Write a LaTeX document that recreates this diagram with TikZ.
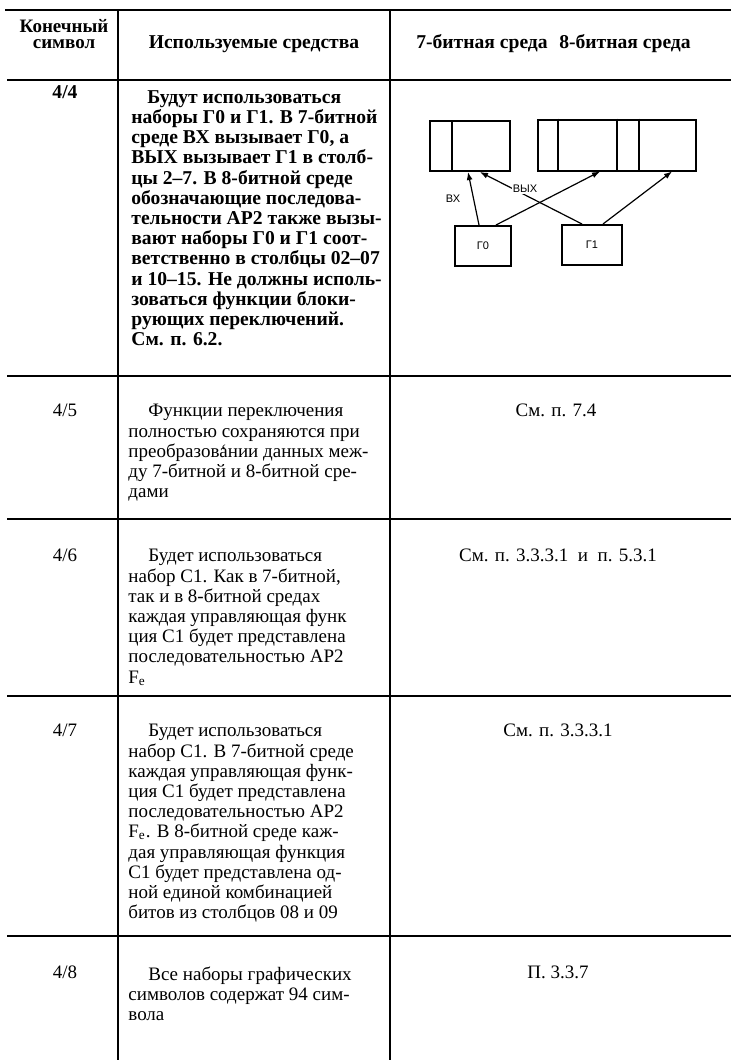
\documentclass[tikz,border=0pt]{standalone}
\usepackage{fontspec}
\setmainfont{Liberation Serif}
\setsansfont{Liberation Sans}
\usetikzlibrary{arrows.meta,calc}

\tikzset{
  rule/.style={line width=1.1pt},
  txt/.style={inner sep=0pt, font=\fontsize{9.5}{10.1}\selectfont},
  bold/.style={font=\bfseries\fontsize{9.8}{10.1}\selectfont},
  cell/.style={txt, anchor=north west, align=left},
  num/.style={txt, anchor=base},
  envbox/.style={draw, line width=1pt, inner sep=0pt},
  setbox/.style={draw, line width=1pt, inner sep=0pt, font=\sffamily\fontsize{5.5}{6}\selectfont},
  lbl/.style={inner sep=0.6pt, font=\sffamily\fontsize{5.5}{6}\selectfont},
  call/.style={line width=0.6pt, -{Latex[length=4pt,width=3pt]}},
}

\begin{document}
\begin{tikzpicture}[x=0.5pt,y=-0.5pt]
\useasboundingbox (0,0) rectangle (731,1060);

% table rules
\draw[rule] (5,10) -- (731,10);
\foreach \y in {80,376,519,696,936}
  \draw[rule] (7,\y) -- (731,\y);
\draw[rule] (118,10) -- (118,1060);
\draw[rule] (390,10) -- (390,1060);

% header
\node[txt, bold, align=center, font=\bfseries\fontsize{9.5}{8}\selectfont] (hsym) at (64,34) {Конечный\\символ};
\node[num, bold] (hmeans) at (254,48) {Используемые средства};
\node[num, bold] (h7) at (482,48) {7-битная среда};
\node[num, bold] (h8) at (625,48) {8-битная среда};

% row 4/4
\node[num, bold] (n44) at (65,98) {4/4};
\node[cell, bold] (t44) at (131,90) {\hspace*{8pt}Будут использоваться\\
наборы Г0 и Г1. В 7-битной\\
среде ВХ вызывает Г0, а\\
ВЫХ вызывает Г1 в столб-\\
цы 2--7. В 8-битной среде\\
обозначающие последова-\\
тельности АР2 также вызы-\\
вают наборы Г0 и Г1 соот-\\
ветственно в столбцы 02--07\\
и 10--15. Не должны исполь-\\
зоваться функции блоки-\\
рующих переключений.\\
См. п. 6.2.};

% switching diagram
\node[envbox, minimum width=40pt, minimum height=25pt] (env7) at (470,146) {};
\node[envbox, minimum width=79pt, minimum height=25.5pt] (env8) at (617,145) {};
\draw[line width=1pt] ($(env7.north west)+(23,0)$) -- ($(env7.south west)+(23,0)$);
\foreach \d in {21,80,102}
  \draw[line width=1pt] ($(env8.north west)+(\d,0)$) -- ($(env8.south west)+(\d,0)$);
\node[setbox, minimum width=28pt, minimum height=20pt] (g0) at (483,246) {Г0};
\node[setbox, minimum width=30pt, minimum height=20pt] (g1) at (592,245) {Г1};
\draw[call] ($(g0.north)+(-4,0)$) -- ($(env7.south)+(-2,0)$);
\draw[call] ($(g0.north)+(13,0)$) -- ($(env8.south)+(-17,0)$);
\draw[call] ($(g1.north)+(-10,0)$) -- ($(env7.south)+(10,0)$);
\draw[call] ($(g1.north)+(11,0)$) -- ($(env8.south)+(55,0)$);
\node[lbl] (lin) at (453,199) {ВХ};
\node[lbl, fill=white] (lout) at (525,189) {ВЫХ};

% row 4/5
\node[num] (n45) at (65,416) {4/5};
\node[cell] (t45) at (128,404) {\hspace*{10pt}Функции переключения\\
полностью сохраняются при\\
преобразов{\ooalign{а\cr\hidewidth\char"60\hidewidth\cr}}нии данных меж-\\
ду 7-битной и 8-битной сре-\\
дами};
\node[num] (r45) at (556,416) {См. п. 7.4};

% row 4/6
\node[num] (n46) at (65,561) {4/6};
\node[cell] (t46) at (128,549) {\hspace*{10pt}Будет использоваться\\
набор С1. Как в 7-битной,\\
так и в 8-битной средах\\
каждая управляющая функ\\
ция С1 будет представлена\\
последовательностью АР2\\
F\textsubscript{e}};
\node[num] (r46) at (558,561) {См. п. 3.3.3.1\ \ и\ \ п. 5.3.1};

% row 4/7
\node[num] (n47) at (65,736) {4/7};
\node[cell] (t47) at (128,724) {\hspace*{10pt}Будет использоваться\\
набор С1. В 7-битной среде\\
каждая управляющая функ-\\
ция С1 будет представлена\\
последовательностью АР2\\
F\textsubscript{e}. В 8-битной среде каж-\\
дая управляющая функция\\
С1 будет представлена од-\\
ной единой комбинацией\\
битов из столбцов 08 и 09};
\node[num] (r47) at (558,736) {См. п. 3.3.3.1};

% row 4/8
\node[num] (n48) at (65,978) {4/8};
\node[cell] (t48) at (128,966) {\hspace*{10pt}Все наборы графических\\
символов содержат 94 сим-\\
вола};
\node[num] (r48) at (558,978) {П. 3.3.7};
\end{tikzpicture}
\end{document}
